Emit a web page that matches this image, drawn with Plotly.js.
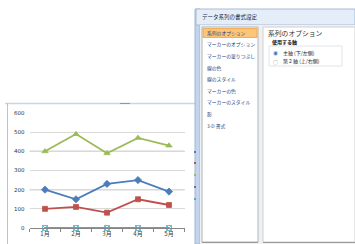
<!DOCTYPE html>
<html><head><meta charset="utf-8">
<script src="https://cdn.plot.ly/plotly-3.0.1.min.js"></script>
<style>html,body{margin:0;padding:0;background:#fff;}#c{width:355px;height:244px;}</style>
</head><body><div id="c"></div>
<script>
const months = ['1月','2月','3月','4月','5月'];
const seriesBlue = [200,150,230,250,190];
const seriesRed = [100,110,80,150,120];
const seriesGreen = [400,490,390,470,430];
const seriesCyan = [0,0,0,0,0];
const yTicks = [0,100,200,300,400,500,600];
const listItems = ['系列のオプション','マーカーのオプション','マーカーの塗りつぶし','線の色','線のスタイル','マーカーの色','マーカーのスタイル','影','3-D 書式'];

const W=355,H=244;
const px=x=>x/W, py=y=>(H-y)/H;
const JP='"Noto Sans CJK JP", "Noto Sans", sans-serif';

function mk(y,color,sym,size){
  return {x:months,y:y,type:'scatter',mode:'lines+markers',
    line:{color:color,width:1.8},marker:{symbol:sym,size:size,color:color,line:{color:color,width:0.8}},
    cliponaxis:false,hoverinfo:'none'};
}
const traces=[
  mk(seriesCyan,'#4BACC6','square-x-open',5),
  mk(seriesBlue,'#4A7EBB','diamond',5.5),
  mk(seriesRed,'#C0504D','square',5),
  mk(seriesGreen,'#9BBB59','triangle-up',5.5)
];

const shapes=[];
const ann=[];
function rect(x0,y0,x1,y1,fill,lc,lw){shapes.push({type:'rect',xref:'paper',yref:'paper',x0:px(x0),x1:px(x1),y0:py(y1),y1:py(y0),fillcolor:fill,line:{color:lc||'rgba(0,0,0,0)',width:lw||0},layer:'above'});}
function line(x0,y0,x1,y1,c,w){shapes.push({type:'line',xref:'paper',yref:'paper',x0:px(x0),x1:px(x1),y0:py(y0),y1:py(y1),line:{color:c,width:w||1},layer:'above'});}
function txt(x,y,t,size,color,anchor,bold){ann.push({xref:'paper',yref:'paper',x:px(x),y:py(y),text:bold?'<b>'+t+'</b>':t,showarrow:false,xanchor:anchor||'left',yanchor:'middle',font:{family:JP,size:size,color:color}});}

// darker gridlines at 200 and 400
[200,400].forEach(v=>shapes.push({type:'line',xref:'x',yref:'y',x0:-0.5,x1:4.5,y0:v,y1:v,line:{color:'#7f7f7f',width:1},layer:'below'}));

// chart window border
line(5,103.5,195,103.5,'#c9d6e3',1.5);
line(7.5,103,7.5,244,'#b8c4cf',1);
line(120,103.5,130,103.5,'#8899aa',1);

// dialog
rect(195,9,355,244,'#ffffff','rgba(0,0,0,0)',0);
rect(195,9,200,244,'#c3d5ec','#9fb6d6',1);
rect(196,9,355,25,'#e4edf8','#aabbd4',1);
txt(200,16.5,'データ系列の書式設定',5.5,'#1a2a44','left');
rect(200,25,355,244,'#f0f0f0');
rect(202,27,258,242,'#ffffff','#a9b4c2',1);
rect(263,27,355,242,'#ffffff','#d0d0d0',1);
rect(203,28.5,257,37.5,'#fbc57a','#f0a040',0.8);
const itemY=[33,44.5,56,67.5,79,90.5,102,113.5,126];
listItems.forEach((t,i)=>txt(205,itemY[i],t,4.8,'#1f3c78','left'));
txt(266,33.5,'系列のオプション',6.8,'#333','left');
txt(270,42,'使用する軸',5,'#111','left',true);
rect(269,46,342,66,'rgba(0,0,0,0)','#e0e4ea',1);
ann.push({xref:'paper',yref:'paper',x:px(275),y:py(53),text:'◉',showarrow:false,xanchor:'center',yanchor:'middle',font:{family:JP,size:5,color:'#3a7bd5'}});
ann.push({xref:'paper',yref:'paper',x:px(275),y:py(61),text:'○',showarrow:false,xanchor:'center',yanchor:'middle',font:{family:JP,size:5,color:'#888'}});
txt(281,53,'主軸 (下/左側)',5,'#222','left');
txt(281,61,'第 2 軸 (上/右側)',5,'#222','left');
line(263,242.5,355,242.5,'#9a9a9a',1);
line(202,242.5,258,242.5,'#9a9a9a',1);
// peeking legend marks
[['#4A7EBB',152],['#C0504D',163],['#9BBB59',175],['#8064A2',187],['#4BACC6',199]].forEach(a=>rect(194,a[1]-1,196,a[1]+1,a[0]));

const layout={
  width:W,height:H,margin:{l:0,r:0,t:0,b:0},
  paper_bgcolor:'#ffffff',plot_bgcolor:'rgba(0,0,0,0)',showlegend:false,
  xaxis:{domain:[px(29.5),px(184.5)],type:'category',range:[-0.5,4.5],
    showgrid:false,showline:true,linecolor:'#868686',linewidth:1,
    ticks:'outside',ticklen:3,tickcolor:'#868686',tickson:'boundaries',
    tickfont:{family:JP,size:6,color:'#333'},fixedrange:true,zeroline:false},
  yaxis:{domain:[py(228),py(113)],range:[0,600],tickvals:yTicks,
    showgrid:true,gridcolor:'#d9d9d9',gridwidth:1,showline:false,zeroline:false,
    ticks:'',ticklabelstandoff:4,tickfont:{family:'"DejaVu Sans", sans-serif',size:5.5,color:'#333'},fixedrange:true},
  shapes:shapes,annotations:ann
};
Plotly.newPlot('c',traces,layout,{staticPlot:true,displayModeBar:false});
</script></body></html>
